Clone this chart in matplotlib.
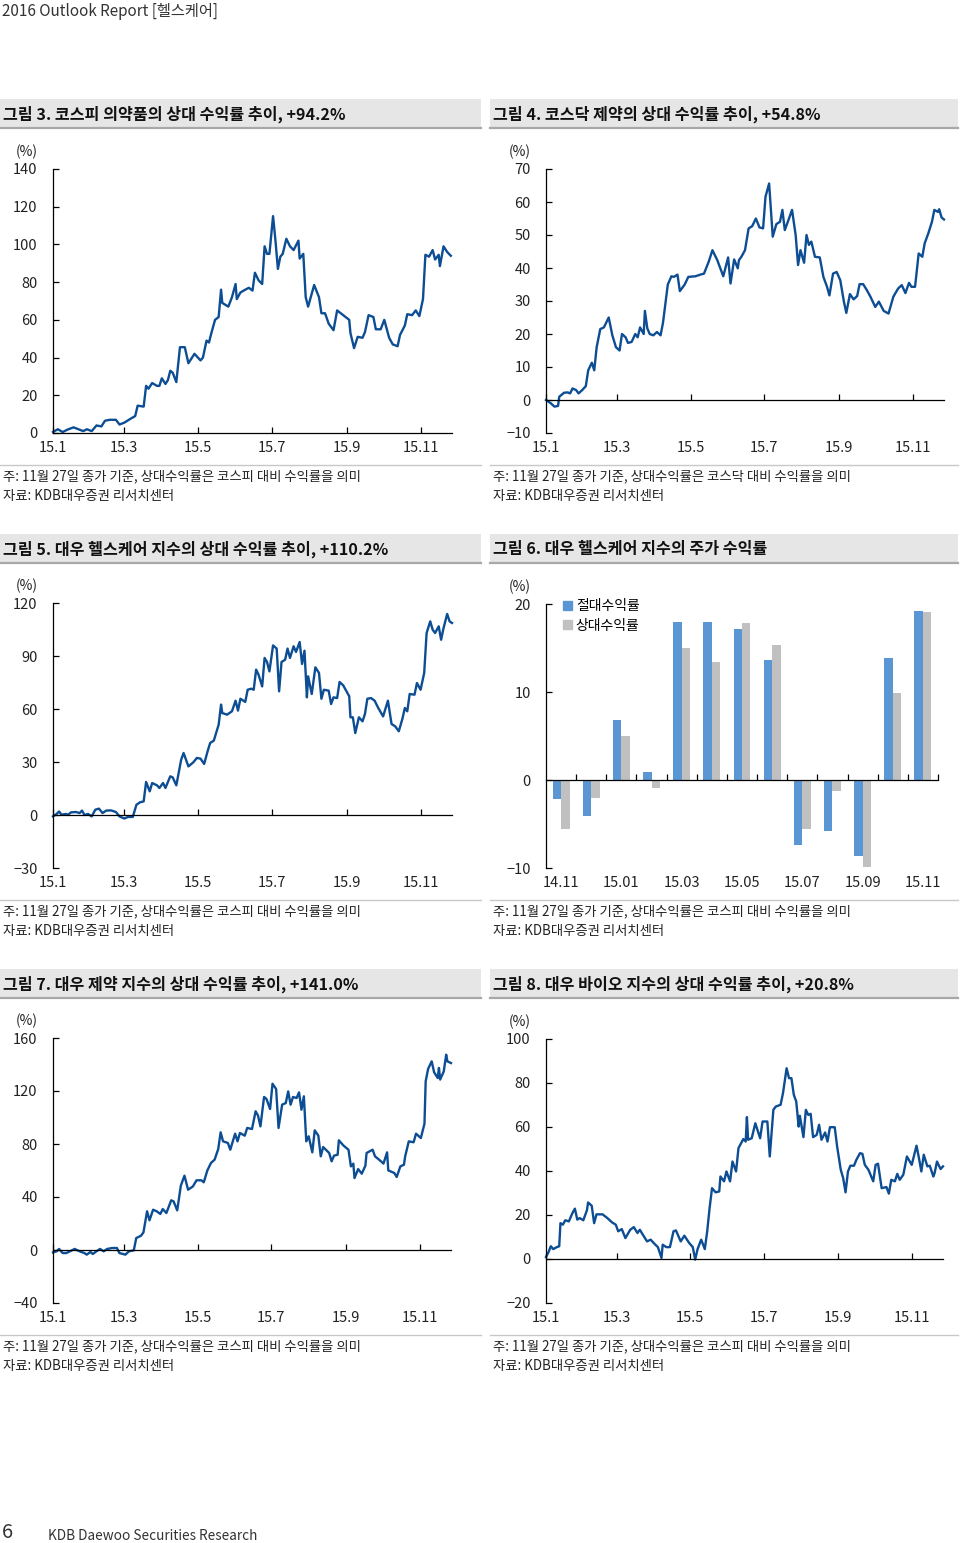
import pandas as pd
import matplotlib.pyplot as plt
from matplotlib.patches import Rectangle, Patch
from matplotlib.lines import Line2D

plt.rcParams['font.family'] = ['Noto Sans CJK KR', 'DejaVu Sans']

# ---- data ----
# x = days since 2015-01-01, y = relative return (%)
days3 = [0,4,8,12,17,21,25,28,32,36, 40,43,47,52,55,59,64,68,70,75,
         77,79,82,86,88,90,93,95,97,99, 102,105,109,112,115,117,122,124,127,129,
         131,134,137,139,140,145,148,151,152,155, 159,162,165,167,170,173,175,177,179,182,
         184,186,188,190,193,196,199,203,204,207, 209,211,216,220,222,225,228,232,235,240,
         245,246,249,252,256,258,261,265,267,271, 274,278,281,285,287,291,293,297,300,303,
         306,308,311,314,316,319,320,323,326,329]
ret3 = [0.5,2,0.5,1.8,3,2,1,2,1,4, 3.5,6.5,7,7,4.5,5.5,7.5,9,14.5,14,
        25,23.5,26.5,25,25,29,26,28,33,32, 27,45.5,45.5,37,40,42,38.5,40,49,48,
        53,60,61.5,76,69,67,72,79,71,74.5, 76,77,75.5,85,81,79,99,95,95,115,
        102,87,93.5,95,103,99,97,102,92.5,95, 72,67,78.5,72,63.5,63.5,58,54.5,65,62.5,
        60,53,45,51,50.5,53.5,62.5,61.5,55,55, 60,50.5,47,46,52,57,63,62.5,65,62,
        71,94.5,93.5,97,92,94.5,88.5,99,96,94]

days4 = [0,4,7,10,11,15,18,20,22,25, 27,30,33,35,38,40,42,45,48,52,
         55,58,61,63,66,68,71,74,76,78, 81,82,84,86,89,92,95,97,101,104,
         106,109,111,115,118,124,128,131,135,138, 142,147,151,153,156,159,160,162,165,168,
         171,174,177,180,182,185,188,191,194,196, 198,201,204,207,209,211,214,216,218,220,
         223,227,230,233,235,238,241,244,247,249, 252,255,258,260,263,266,269,273,276,280,
         284,288,292,295,298,301,303,306,309,312, 314,317,320,322,325,326,328,330]
ret4 = [0,-1,-2,-1.8,1,2.2,2.3,2,3.5,3, 2,3,4.2,9,11.3,9,16,21.5,22,25,
        19.6,16,15,20,19,17.3,17.6,20,19,22, 20,27,21.7,20,19.6,20.6,19.6,23.4,35,37.5,
        37.3,38,33,35,37.3,37.5,38,38.3,42,45.4, 42.4,37.5,43.2,35.3,42.6,39.9,42.4,43.4,45.4,52,
        52.7,55,52.3,52,61.6,65.6,49.5,53.3,54,57.6, 51.5,54.5,57.6,50,40.9,45.4,41.6,50,47,48,
        43.4,43.2,37.3,34.3,31.7,38.3,38.8,36.3,29.8,26.4, 32.1,30.5,31.5,35.1,35.1,33.3,31.3,28.2,29.8,27,
        26.2,31.3,33.8,34.8,32.4,35.5,34.3,34.3,44.4,43.4, 47.5,50.5,54,57.6,57,57.8,55.3,54.7]

days5 = [0,3,5,7,11,12,15,19,22,24, 26,29,32,35,38,41,44,48,52,55,
         59,62,66,69,72,75,77,80,82,86, 88,91,93,97,99,102,106,108,112,116,
         119,122,125,128,130,133,137,139,140,144, 148,151,153,155,159,161,164,166,168,170,
         173,175,177,179,182,185,187,189,192,194, 196,199,201,204,206,208,210,211,214,217,
         220,222,224,228,230,232,235,237,240,245, 246,248,250,253,256,258,260,263,266,269,
         273,277,280,283,286,289,291,293,295,299, 301,304,307,309,312,314,316,319,321,323,
         326,328,330]
ret5 = [-0.8,0.6,2,0.2,0.6,0,1.5,1.7,1.1,2.5, 0,0.6,-0.8,3,3.6,1.1,2.5,2.6,1.7,-0.8,
        -2,-1.1,-1.1,5.8,7.2,7.7,18.7,13.4,18.1,16.8, 15.3,18.1,15.3,21.9,21.3,16.8,31.3,35.1,27.5,29.8,
        32.3,31.9,28.9,36.4,40.8,42.1,51.1,62.5,57.7,56.8, 58.7,64.7,59.1,65.8,64,70.9,71.5,70.9,82.3,79.4,
        72.8,88.9,86.6,81.3,96,94.2,70,86.6,87.9,94.2, 88.9,95.5,92.3,97.9,85.5,93,66.6,78.5,68.5,83.6,
        80.4,65.8,70.9,70.4,62.8,66.6,66.2,75.3,73.4,67.2, 55.3,55.3,46.4,55.3,53,57.2,65.8,66.2,64.7,60.6,
        55.8,64.7,51.5,50.2,47.4,54.5,60.6,58.7,68.5,68.1, 74.7,70.9,80.4,103,109.6,104.9,103,106.8,99.2,105.8,
        113.8,109.6,108.7]

days7 = [0,3,5,8,11,14,18,22,26,28, 31,33,36,39,42,45,49,53,55,60,
         63,67,69,73,75,78,80,83,86,89, 91,94,98,100,103,106,109,112,116,119,
         123,125,128,131,134,137,139,141,145,147, 151,153,155,159,161,165,168,170,172,175,
         177,180,182,185,187,190,193,195,197,199, 202,204,206,208,210,212,215,217,220,222,
         224,229,231,233,236,237,241,245,247,249, 250,253,256,259,260,265,267,272,274,277,
         278,283,285,288,291,292,295,299,301,305, 308,309,311,314,316,319,320,321,324,326,
         327,330]
ret7 = [-1.8,-1,0.8,-2.3,-2.3,-1,0.8,-1,-2.3,-3.5, -1.5,-3,-1,0.8,-1,0.8,1.5,1.5,-2.3,-3.5,
        -1,-0.3,9,10.8,13.3,29.2,22.4,30.4,29.2,27.2, 30.9,27.9,37.5,36.7,29.9,48.6,56.1,45.5,48,52.6,
        52.6,51.1,60.1,65.7,68.2,76.2,88.8,82,80.8,75.7, 87.8,82,88.3,86.3,92.1,91.3,104.7,101.4,93.3,115.5,
        114,106.4,125.5,121.5,92.1,109.7,110.9,119.7,109.7,115.5, 114.7,119,105.9,116,82,85.8,73.7,90.3,86.3,70.7,
        77.7,73.2,66.9,71.2,71.9,82.8,78.7,75.7,63.1,65.2, 54.3,61.1,57.6,63.6,73.2,75.7,70.7,66.9,65.2,73.7,
        60.1,58.1,55.1,63.1,64.4,70.7,82,81.3,87.8,84.5, 95.3,127.3,136.6,142.4,134.1,129.8,137.4,128.6,134.8,147.4,
        142.4,141.1]

days8 = [0,2,4,6,9,11,12,14,16,19, 22,24,26,28,31,34,35,38,40,42,
         47,51,55,58,60,63,66,70,73,76, 78,81,84,87,90,93,96,97,100,103,
         106,108,112,115,119,122,124,126,129,132, 134,136,138,141,144,145,148,150,153,155,
         158,160,164,166,167,168,171,174,178,180, 184,186,189,191,195,197,200,202,204,206,
         208,210,211,214,216,218,220,222,225,227, 229,232,234,236,240,242,245,247,249,251,
         253,256,258,261,263,265,268,272,274,276, 279,283,285,287,290,292,294,297,300,304,
         308,310,312,314,317,319,322,323,325,328, 330]
ret8 = [0.9,3,5.8,4.5,5.4,5.8,16.3,15.6,17.6,17.1, 20.9,22.9,17.9,18.6,17.6,22.1,25.7,24.2,16.3,20.3,
        20.3,18.6,16.6,15.6,12.6,13.6,9.5,13.3,14.5,11.8, 13.3,10.6,8,8.8,7,5.4,0.5,6.5,5.4,5.4,
        12.6,13,8,10.6,7.3,5.4,-0.3,4.5,8.8,4.5, 12.6,23.2,32.2,30.3,30.7,37.5,35.3,39.8,35.3,44.3,
        39.8,50.4,54.5,53.4,64.5,54.2,54.9,61.7,54.9,62.5, 62.5,46.6,67.8,69.3,70.1,75.4,86.7,82.2,82.2,74.6,
        71.6,60.2,65.1,55.4,67.8,65.5,66,55.4,56.4,61, 54.2,57.5,53.4,59.9,59.9,51.1,40.6,36.8,30.3,39.8,
        42.4,42.4,45.1,48.1,47.8,42.8,40.6,35.3,42.8,43.3, 32.2,32.7,29.7,36,35.3,38.7,36,38.3,46.6,42.8,
        51.5,45.9,39.8,47.4,42.1,42.4,37.5,39,44.3,40.9, 42.1]

# monthly returns of the Daewoo healthcare index (%)
bar_months = ['14.11','14.12','15.01','15.02','15.03','15.04','15.05',
              '15.06','15.07','15.08','15.09','15.10','15.11']
abs_ret = [-2.2,-4.1,6.8,0.9,18.0,17.9,17.2,13.6,-7.4,-5.8,-8.6,13.9,19.2]
rel_ret = [-5.6,-2.1,5.0,-0.9,15.0,13.4,17.8,15.3,-5.6,-1.3,-9.9,9.9,19.1]

month_ticks = ['2015-01-01','2015-03-01','2015-05-01','2015-07-01','2015-09-01','2015-11-01']
month_labels = ['15.1','15.3','15.5','15.7','15.9','15.11']

# ---- page layout (pixels) ----
W, H = 960, 1543
LINE_C = '#0c4d93'
TXT_C = '#222222'
TICK_FS = 10.5

fig = plt.figure(figsize=(W / 100, H / 100), dpi=100)


def box(x0, y0, x1, y1):
    return [x0 / W, 1 - y1 / H, (x1 - x0) / W, (y1 - y0) / H]


def ftext(x, y, s, **kw):
    fig.text(x / W, 1 - y / H, s, **kw)


def fline(x0, x1, y, color, lw):
    fig.add_artist(Line2D([x0 / W, x1 / W], [1 - y / H, 1 - y / H],
                          transform=fig.transFigure, color=color, lw=lw))


def title_band(x0, x1, y0, text):
    fig.add_artist(Rectangle((x0 / W, 1 - (y0 + 29) / H), (x1 - x0) / W, 29 / H,
                             transform=fig.transFigure, color='#e6e6e6', lw=0))
    fline(x0, x1, y0 + 29, '#a8a8a8', 1.6)
    ftext(x0 + 3, y0 + 15, text, fontsize=11.6, fontweight='bold', color='#111111',
          va='center', ha='left')


def notes(x0, x1, y0, market):
    fline(x0, x1, y0, '#c8c8c8', 1.0)
    ftext(x0 + 3, y0 + 11, f'주: 11월 27일 종가 기준, 상대수익률은 {market} 대비 수익률을 의미',
          fontsize=9.6, color=TXT_C, va='center')
    ftext(x0 + 3, y0 + 31, '자료: KDB대우증권 리서치센터', fontsize=9.6, color=TXT_C, va='center')


def style_axes(ax, x0, y0, yticks):
    for s in ['top', 'right']:
        ax.spines[s].set_visible(False)
    ax.spines['left'].set_linewidth(0.9)
    ax.spines['bottom'].set_linewidth(0.9)
    ax.spines['bottom'].set_position(('data', 0))
    ax.set_yticks(yticks)
    ax.tick_params(axis='y', direction='in', length=4, width=0.9, pad=11,
                   labelsize=TICK_FS, labelcolor=TXT_C)
    ax.tick_params(axis='x', direction='in', length=4, width=0.9, labelbottom=False)
    ax.patch.set_alpha(0)
    ftext(x0 - 26, y0 - 17, '(%)', fontsize=10, color=TXT_C, ha='center', va='center')


def month_axis(ax, ticks, labels):
    sec = ax.secondary_xaxis(0)
    sec.set_xticks(ticks, labels)
    sec.tick_params(length=0, pad=6, labelsize=TICK_FS, labelcolor=TXT_C)
    for s in sec.spines.values():
        s.set_visible(False)


def line_chart(x0, y0, x1, y1, days, vals, ylim, yticks):
    ax = fig.add_axes(box(x0, y0, x1, y1))
    ax.plot(days, vals, color=LINE_C, lw=1.7, clip_on=False, solid_joinstyle='round')
    ax.set_xlim(0, 330)
    ax.set_ylim(*ylim)
    tick_days = (pd.to_datetime(month_ticks) - pd.Timestamp('2015-01-01')).days
    ax.set_xticks(tick_days)
    style_axes(ax, x0, y0, yticks)
    month_axis(ax, tick_days, month_labels)
    return ax


# header / footer
ftext(2, 11, '2016 Outlook Report [헬스케어]', fontsize=11, color='#333333', va='center')
ftext(2, 1533, '6', fontsize=14.5, color='#333333', va='center')
ftext(48, 1536, 'KDB Daewoo Securities Research', fontsize=9.8, color='#333333', va='center')

ROW = 435
titles = [('그림 3. 코스피 의약품의 상대 수익률 추이, +94.2%', '그림 4. 코스닥 제약의 상대 수익률 추이, +54.8%'),
          ('그림 5. 대우 헬스케어 지수의 상대 수익률 추이, +110.2%', '그림 6. 대우 헬스케어 지수의 주가 수익률'),
          ('그림 7. 대우 제약 지수의 상대 수익률 추이, +141.0%', '그림 8. 대우 바이오 지수의 상대 수익률 추이, +20.8%')]
for r, (tl, tr) in enumerate(titles):
    title_band(0, 481, 99 + r * ROW, tl)
    title_band(490, 958, 99 + r * ROW, tr)
    notes(0, 481, 465 + r * ROW, '코스피')
    notes(490, 958, 465 + r * ROW, '코스닥' if r == 0 else '코스피')

# line charts
line_chart(53, 169, 452, 433, days3, ret3, (0, 140), range(0, 141, 20))
line_chart(546, 169, 944, 433, days4, ret4, (-10, 70), range(-10, 71, 10))
line_chart(53, 603, 452, 868, days5, ret5, (-30, 120), range(-30, 121, 30))
line_chart(53, 1038, 451, 1303, days7, ret7, (-40, 160), range(-40, 161, 40))
line_chart(546, 1039, 943, 1303, days8, ret8, (-20, 100), range(-20, 101, 20))

# bar chart
ax = fig.add_axes(box(546, 604, 938, 868))
xs = list(range(len(bar_months)))
bw = 0.28
ax.bar([x - bw / 2 for x in xs], abs_ret, width=bw, color='#5b96d4', label='절대수익률')
ax.bar([x + bw / 2 for x in xs], rel_ret, width=bw, color='#c0c0c0', label='상대수익률')
ax.set_xlim(-0.5, len(bar_months) - 0.5)
ax.set_ylim(-10, 20)
ax.set_xticks([x + 0.5 for x in xs])
style_axes(ax, 546, 604, [-10, 0, 10, 20])
month_axis(ax, xs[::2], bar_months[::2])
handles = [Patch(color='#5b96d4'), Patch(color='#c0c0c0')]
ax.legend(handles, ['절대수익률', '상대수익률'], loc='upper left', bbox_to_anchor=(0.03, 1.04),
          frameon=False, fontsize=10, handlelength=0.6, handleheight=0.6,
          handletextpad=0.3, labelspacing=0.4, borderaxespad=0)

fig.savefig('out.png', dpi=100)
